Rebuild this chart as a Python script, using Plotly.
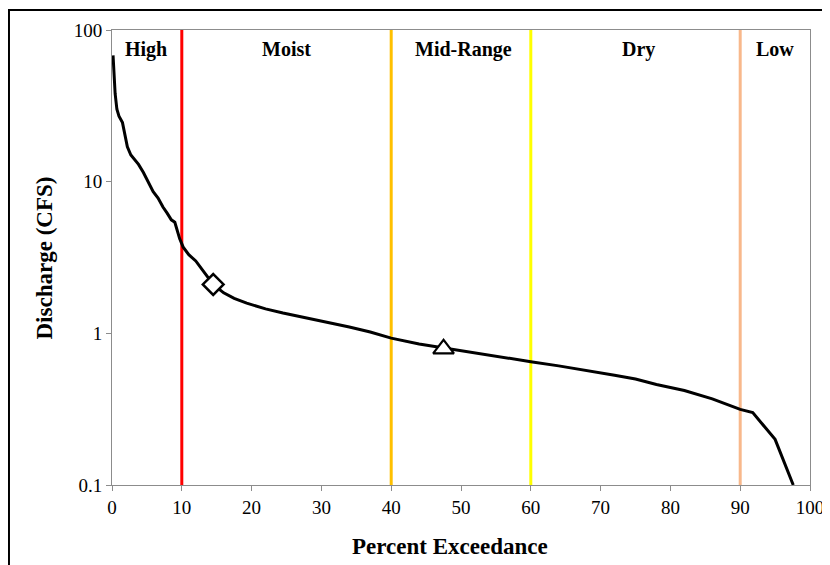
import plotly.graph_objects as go

# Flow duration curve data (percent exceedance vs discharge, CFS)
pct = [0.15, 0.3, 0.45, 0.7, 1.0, 1.5, 1.9, 2.2, 2.7, 3.2, 3.8, 4.5, 5.2, 5.9, 6.6, 7.3, 7.9, 8.5, 9.0, 9.7,
       10.2, 11, 12, 13, 14.5, 16, 17.5, 19.3, 22, 24.5, 28, 31, 34, 37, 40, 44, 47.5, 52, 56, 60,
       64, 68, 72, 75, 78, 82, 86, 90, 91.8, 95, 97.6]
flow = [68, 45, 38, 30, 27, 24.5, 20, 17, 15, 14, 13, 11.5, 10, 8.6, 7.8, 6.8, 6.2, 5.6, 5.4, 4.2,
        3.7, 3.3, 3.0, 2.6, 2.1, 1.85, 1.7, 1.58, 1.45, 1.36, 1.26, 1.17, 1.1, 1.02, 0.93, 0.85, 0.80, 0.74, 0.69, 0.65,
        0.61, 0.57, 0.53, 0.50, 0.46, 0.42, 0.37, 0.315, 0.30, 0.2, 0.1]

marker_x = [14.5, 47.5]
marker_y = [2.1, 0.79]

zone_bounds = [10, 40, 60, 90]
zone_colors = ["#FF0000", "#FFC000", "#FFFF00", "#F8B88B"]
zone_labels = ["High", "Moist", "Mid-Range", "Dry", "Low"]
zone_label_x = [4.9, 25, 50.3, 75.4, 95]

y_ticks = [0.1, 1, 10, 100]
y_tick_text = ["0.1", "1", "10", "100"]

fig = go.Figure()

fig.add_trace(go.Scatter(x=pct, y=flow, mode="lines",
                         line=dict(color="black", width=3), showlegend=False))
fig.add_trace(go.Scatter(x=[marker_x[0]], y=[marker_y[0]], mode="markers",
                         marker=dict(symbol="diamond", size=16, color="white",
                                     line=dict(color="black", width=2.5)), showlegend=False))
fig.add_trace(go.Scatter(x=[marker_x[1]], y=[marker_y[1]], mode="markers",
                         marker=dict(symbol="triangle-up", size=18, color="white",
                                     line=dict(color="black", width=2.2)), showlegend=False))

for xb, c in zip(zone_bounds, zone_colors):
    fig.add_shape(type="line", xref="x", yref="paper", x0=xb, x1=xb, y0=0, y1=1,
                  line=dict(color=c, width=3), layer="below")

for lab, lx in zip(zone_labels, zone_label_x):
    fig.add_annotation(x=lx, y=0.958, xref="x", yref="paper", text="<b>%s</b>" % lab,
                       xanchor="center", yanchor="middle",
                       showarrow=False, font=dict(family="Liberation Serif", size=20, color="black"))

# outer frame
fig.add_shape(type="rect", xref="paper", yref="paper", x0=-0.1476, x1=1.06, y0=-0.25, y1=1.0438,
              line=dict(color="black", width=2))

fig.add_annotation(x=-0.096, y=0.5, xref="paper", yref="paper", text="<b>Discharge (CFS)</b>",
                   textangle=-90, showarrow=False, xanchor="center", yanchor="middle",
                   font=dict(family="Liberation Serif", size=23, color="black"))
fig.add_annotation(x=0.484, y=-0.1357, xref="paper", yref="paper", text="<b>Percent Exceedance</b>",
                   showarrow=False, xanchor="center", yanchor="middle",
                   font=dict(family="Liberation Serif", size=23, color="black"))

fig.update_xaxes(range=[0, 100], dtick=10, showgrid=False, zeroline=False,
                 showline=True, linecolor="#8C8C8C", linewidth=1, mirror=True,
                 ticks="outside", ticklen=5, tickcolor="#8C8C8C",
                 tickfont=dict(family="Liberation Serif", size=19, color="black"))
fig.update_yaxes(type="log", range=[-1, 2], tickvals=y_ticks, ticktext=y_tick_text,
                 showgrid=False, zeroline=False,
                 showline=True, linecolor="#8C8C8C", linewidth=1, mirror=True,
                 ticks="outside", ticklen=5, tickcolor="#8C8C8C",
                 tickfont=dict(family="Liberation Serif", size=19, color="black"))

fig.update_layout(width=830, height=565, margin=dict(l=104, r=28, t=20, b=88),
                  plot_bgcolor="white", paper_bgcolor="white",
                  font=dict(family="Liberation Serif"))

fig.write_html("out.html")
